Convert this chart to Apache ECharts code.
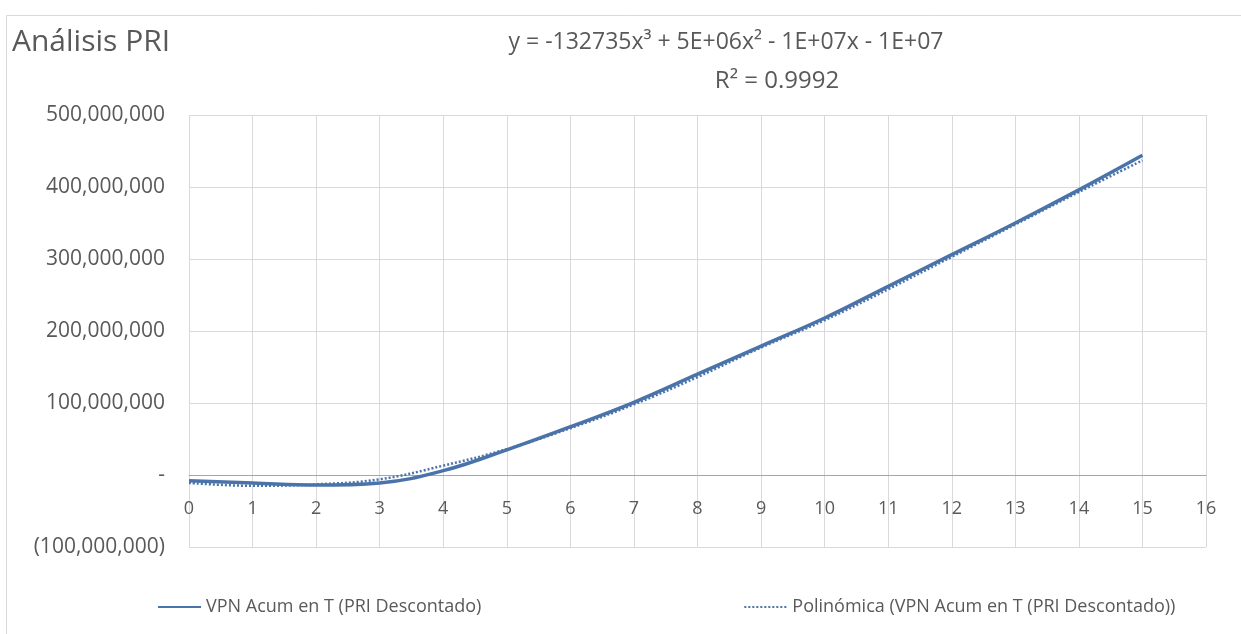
<!DOCTYPE html>
<html>
<head>
<meta charset="utf-8">
<script src="https://cdn.jsdelivr.net/npm/echarts@6/dist/echarts.min.js"></script>
<style>
  html, body { margin: 0; padding: 0; background: #ffffff; }
  #chart { width: 1241px; height: 634px; }
</style>
</head>
<body>
<div id="chart"></div>
<script>
// Periodos (años) y VPN acumulado descontado
const periods = [0, 1, 2, 3, 4, 5, 6, 7, 8, 9, 10, 11, 12, 13, 14, 15];
const vpnAcum = [-8e6, -11e6, -14e6, -11e6, 6e6, 35e6, 67e6, 101e6, 140e6, 179e6, 218e6, 262e6, 306e6, 350e6, 396e6, 444e6];
// Línea de tendencia polinómica (grado 3)
const trendX = [0, 1, 2, 3, 4, 5, 6, 7, 8, 9, 10, 11, 12, 13, 14, 15];
const trendY = [-11e6, -15e6, -13e6, -6e6, 13e6, 36e6, 65e6, 98e6, 136e6, 177e6, 215e6, 258e6, 303e6, 348e6, 393e6, 437e6];

const seriesNames = ['VPN Acum en T (PRI Descontado)', 'Polinómica (VPN Acum en T (PRI Descontado))'];
const titleText = 'Análisis PRI';
const equationText = 'y = -132735x³ + 5E+06x² - 1E+07x - 1E+07';
const r2Text = 'R² = 0.9992';

const FONT = '"Open Sans", "Noto Sans", sans-serif';
const TEXT_COLOR = '#595959';
const LINE_COLOR = '#4a73a9';

function fmtAxis(v) {
  if (v === 0) return '-';
  const s = Math.abs(v).toLocaleString('en-US');
  return v < 0 ? '(' + s + ')' : s;
}

const chart = echarts.init(document.getElementById('chart'), null, { renderer: 'canvas' });

chart.setOption({
  backgroundColor: '#ffffff',
  animation: false,
  textStyle: { fontFamily: FONT },
  title: [
    { text: titleText, left: 7, top: 22,
      textStyle: { fontFamily: FONT, fontSize: 30, fontWeight: 'normal', color: TEXT_COLOR } },
    { text: equationText, left: 721, top: 26, textAlign: 'center',
      textStyle: { fontFamily: FONT, fontSize: 23, fontWeight: 'normal', color: TEXT_COLOR } },
    { text: r2Text, left: 772, top: 64, textAlign: 'center',
      textStyle: { fontFamily: FONT, fontSize: 24, fontWeight: 'normal', color: TEXT_COLOR } }
  ],
  graphic: [
    { type: 'rect', shape: { x: 6.5, y: 15.5, width: 1240, height: 640 },
      style: { fill: 'none', stroke: '#d9d9d9', lineWidth: 1 }, silent: true }
  ],
  grid: { left: 189, right: 35, top: 115, bottom: 87, containLabel: false },
  legend: {
    bottom: 18,
    left: 157,
    padding: 0,
    itemWidth: 43,
    itemHeight: 10,
    itemGap: 262,
    textStyle: { fontFamily: FONT, fontSize: 18, color: TEXT_COLOR },
    data: seriesNames
  },
  xAxis: {
    type: 'value',
    min: 0, max: 16, interval: 1,
    // eje horizontal dibujado sobre la línea de valor cero
    offset: -72,
    axisLine: { onZero: false, lineStyle: { color: '#a6a6a6', width: 1 } },
    axisTick: { show: false },
    axisLabel: { color: TEXT_COLOR, fontSize: 18, fontFamily: FONT, margin: 25 },
    splitLine: { show: true, lineStyle: { color: '#d9d9d9', width: 1 } }
  },
  yAxis: {
    type: 'value',
    min: -100000000, max: 500000000, interval: 100000000,
    axisLine: { show: false },
    axisTick: { show: false },
    axisLabel: { color: TEXT_COLOR, fontSize: 21, fontFamily: FONT, margin: 24, formatter: fmtAxis },
    splitLine: { show: true, lineStyle: { color: '#d9d9d9', width: 1 } }
  },
  series: [
    {
      name: seriesNames[0],
      type: 'line',
      smooth: 0.4,
      symbol: 'none',
      data: periods.map((p, i) => [p, vpnAcum[i]]),
      lineStyle: { color: LINE_COLOR, width: 3.5 },
      itemStyle: { color: LINE_COLOR, opacity: 0 },
      z: 3
    },
    {
      name: seriesNames[1],
      type: 'line',
      smooth: 0.4,
      symbol: 'none',
      data: trendX.map((p, i) => [p, trendY[i]]),
      lineStyle: { color: LINE_COLOR, width: 2.5, type: [2, 2] },
      itemStyle: { color: LINE_COLOR, opacity: 0 },
      z: 2
    }
  ]
});
</script>
</body>
</html>
